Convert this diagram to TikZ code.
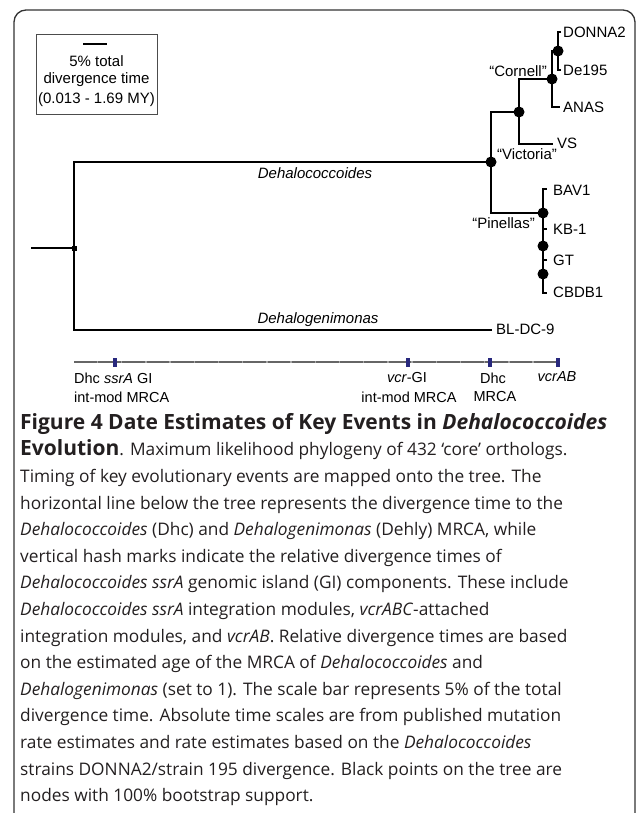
\documentclass[tikz,border=0pt]{standalone}
\usepackage{fontspec}
\setmainfont{Liberation Sans}
\newfontfamily\capfont{Open Sans}
\usetikzlibrary{positioning}
\definecolor{navy}{RGB}{40,40,125}
\definecolor{capgray}{RGB}{35,31,32}

\begin{document}
\begin{tikzpicture}[x=1pt, y=-1pt,
    branch/.style={line width=2.5pt},
    bsdot/.style={circle, fill=black, inner sep=0pt, minimum size=11pt},
    rootsq/.style={fill=black, inner sep=0pt, minimum size=5pt},
    taxon/.style={anchor=west, inner sep=0pt, font=\fontsize{15}{18}\selectfont},
    cladename/.style={inner sep=0pt, font=\fontsize{15}{18}\selectfont},
    axislab/.style={inner sep=0pt, font=\fontsize{14.5}{17}\selectfont},
    hashmark/.style={fill=navy, inner sep=0pt, minimum width=3.5pt, minimum height=9pt},
    capline/.style={anchor=base west, inner sep=0pt, text=capgray, font=\capfont\fontsize{17.3}{20}\selectfont},
    caphead/.style={font=\capfont\bfseries\fontsize{21}{24}\selectfont}]

    \useasboundingbox (0,0) rectangle (636,813);

        %%frame
        \draw[rounded corners=12pt, line width=1.3pt, black!80](14, 813) -- (14, 10) -- (635, 10) -- (635, 813);

        %%scale box
        \node[draw=black!70, line width=.8pt, minimum width=121pt, minimum height=80pt, inner sep=0pt](sbox) at (96.5, 74){};
        \coordinate (sbl) at (83, 44);
        \coordinate (sbr) at (107, 44);
            \draw[line width=1.8pt](sbl) -- (sbr);
        \node[cladename](s1) at (96.5, 61){5\% total};
        \node[cladename](s2) at (96.5, 80){divergence time};
        \node[cladename](s3) at (96.5, 100){(0.013 - 1.69 MY)};

        %%root
        \coordinate (stub) at (31, 248);
        \node[rootsq](root) at (74, 248){};
        \coordinate (bldc) at (492, 330);
        \node[bsdot](vic) at (491, 162){};
            \draw[branch](stub) -- (root.center);
            \draw[branch](vic.center) -| (root.center) |- (bldc);
        \node[cladename](dhc) at (315, 173){\textit{Dehalococcoides}};
        \node[cladename](dehly) at (318, 320){\textit{Dehalogenimonas}};
        \node[taxon](lbldc) at (496, 329){BL-DC-9};

        %%Victoria
        \node[bsdot](vs3) at (519, 112){};
        \node[bsdot](pin) at (543, 213){};
            \draw[branch](vs3.center) -| (vic.center) |- (pin.center);
        \node[cladename](lvic) at (527, 154){``Victoria''};

        %%Cornell
        \node[bsdot](cor) at (552, 79){};
        \coordinate (vstip) at (553, 144);
            \draw[branch](cor.center) -| (vs3.center) |- (vstip);
        \node[taxon](lvs) at (557, 143){VS};
        \node[cladename, anchor=east](lcor) at (547, 71){``Cornell''};

        \node[bsdot](don) at (558, 51){};
        \coordinate (anastip) at (560, 107);
            \draw[branch](don.center) -| (cor.center) |- (anastip);
        \node[taxon](lanas) at (563, 107){ANAS};

        \coordinate (donnatip) at (561, 32);
        \coordinate (detip) at (561, 70);
            \draw[branch](donnatip) -| (don.center) |- (detip);
        \node[taxon](ldonna) at (563, 32){DONNA2};
        \node[taxon](lde) at (563, 70){De195};

        %%Pinellas
        \coordinate (bavtip) at (547, 189);
        \coordinate (kbtip) at (547, 229);
        \coordinate (gttip) at (547, 260);
        \coordinate (cbdtip) at (547, 293);
            \draw[branch](bavtip) -| (pin.center) |- (cbdtip);
            \draw[branch](kbtip) -- (kbtip -| pin);
            \draw[branch](gttip) -- (gttip -| pin);
        \node[bsdot](pn2) at (543, 246){};
        \node[bsdot](pn3) at (543, 274){};
        \node[cladename, anchor=east](lpin) at (535, 223){``Pinellas''};
        \node[taxon](lbav) at (553, 190){BAV1};
        \node[taxon](lkb) at (553, 229){KB-1};
        \node[taxon](lgt) at (553, 260){GT};
        \node[taxon](lcbd) at (553, 292){CBDB1};

        %%time line
        \coordinate (t0) at (74, 362);
        \coordinate (t1) at (558, 362);
            \draw[line width=2pt, black!35](t0) -- (t1);
            \draw[line width=2pt, black!60, dash pattern=on 22.7pt off 1.5pt](t0) -- (t1);
        \node[hashmark](hm1) at (115, 362){};
        \node[hashmark](hm2) at (408, 362){};
        \node[hashmark](hm3) at (490, 362){};
        \node[hashmark](hm4) at (558, 362){};
        \node[axislab, anchor=west](a1) at (74, 378){Dhc \textit{ssrA} GI};
        \node[axislab, anchor=west](a1b) at (74, 397){int-mod MRCA};
        \node[axislab](a2) at (407, 378){\textit{vcr}-GI};
        \node[axislab](a2b) at (409, 397){int-mod MRCA};
        \node[axislab](a3) at (493, 378){Dhc};
        \node[axislab](a3b) at (495, 397){MRCA};
        \node[axislab](a4) at (557, 377){\textit{vcrAB}};

        %%caption
        \node[capline, caphead](c1) at (20, 429){Figure 4 Date Estimates of Key Events in \textit{Dehalococcoides}};
        \node[capline](c2) at (20, 455.8){{\capfont\bfseries\fontsize{21}{24}\selectfont Evolution}. Maximum likelihood phylogeny of 432 ‘core’ orthologs.};
        \node[capline](c3) at (20, 482.4){Timing of key evolutionary events are mapped onto the tree. The};
        \node[capline](c4) at (20, 509){horizontal line below the tree represents the divergence time to the};
        \node[capline](c5) at (20, 535.6){\textit{Dehalococcoides} (Dhc) and \textit{Dehalogenimonas} (Dehly) MRCA, while};
        \node[capline](c6) at (20, 562.2){vertical hash marks indicate the relative divergence times of};
        \node[capline](c7) at (20, 588.8){\textit{Dehalococcoides ssrA} genomic island (GI) components. These include};
        \node[capline](c8) at (20, 615.4){\textit{Dehalococcoides ssrA} integration modules, \textit{vcrABC}-attached};
        \node[capline](c9) at (20, 642){integration modules, and \textit{vcrAB}. Relative divergence times are based};
        \node[capline](c10) at (20, 668.6){on the estimated age of the MRCA of \textit{Dehalococcoides} and};
        \node[capline](c11) at (20, 695.2){\textit{Dehalogenimonas} (set to 1). The scale bar represents 5\% of the total};
        \node[capline](c12) at (20, 721.8){divergence time. Absolute time scales are from published mutation};
        \node[capline](c13) at (20, 748.4){rate estimates and rate estimates based on the \textit{Dehalococcoides}};
        \node[capline](c14) at (20, 775){strains DONNA2/strain 195 divergence. Black points on the tree are};
        \node[capline](c15) at (20, 801.6){nodes with 100\% bootstrap support.};

    \end{tikzpicture}
\end{document}
